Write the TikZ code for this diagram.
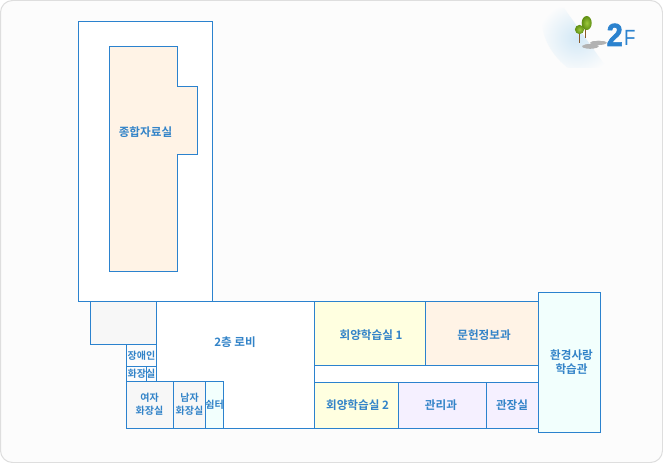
\documentclass[tikz,border=0pt]{standalone}
\usepackage{fontspec}
\setmainfont{Noto Sans CJK KR}[BoldFont={Noto Sans CJK KR Bold}]
\newfontfamily\heavyfont[FakeBold=2]{Liberation Sans Bold}
\newfontfamily\plainlatin{Liberation Sans}
\usetikzlibrary{shadings,fadings}
\definecolor{ln}{HTML}{2B82CE}
\definecolor{tx}{HTML}{3283C8}
\definecolor{cream}{HTML}{FFF3E6}
\definecolor{lemon}{HTML}{FFFFE0}
\definecolor{lav}{HTML}{F5F0FF}
\definecolor{mint}{HTML}{F2FFFD}
\definecolor{greyroom}{HTML}{F7F7F7}
\definecolor{page}{HTML}{FCFCFC}
\definecolor{blob}{HTML}{D2E8F6}
\definecolor{leafdark}{HTML}{5E8E12}
\definecolor{leaflight}{HTML}{9CC83C}
\definecolor{trunk}{HTML}{8A5A2A}
\tikzset{
  room/.style={draw=ln,line width=0.9pt},
  lbl/.style={text=tx,font=\fontsize{8.7pt}{10.4pt}\selectfont\bfseries,align=center,inner sep=0pt},
  lbls/.style={text=tx,font=\fontsize{7.5pt}{9.6pt}\selectfont\bfseries,align=center,inner sep=0pt},
  leaf/.style={inner color=leaflight,outer color=leafdark},
  shadowblur/.style={fill=black!30,path fading=circle with fuzzy edge 15 percent},
  x=0.75pt,y=-0.75pt
}
\begin{document}
\begin{tikzpicture}
\useasboundingbox (0,0) rectangle (663,463);
\draw[draw=black!13,fill=page,line width=0.75pt,rounded corners=9pt] (0.5,0.5) rectangle (662.5,462.5);
% logo
\begin{scope}
\path[clip] (564,8) -- (607,68) -- (540,68) -- (540,8) -- cycle;
\shade[inner color=blob,outer color=page,rotate around={-52:(577,38)}] (577,38) ellipse [x radius=44,y radius=28];
\end{scope}
\fill[shadowblur] (598,42.5) ellipse [x radius=9,y radius=2.6];
\fill[shadowblur] (590,46) ellipse [x radius=9,y radius=2.8];
\draw[trunk,line width=0.9pt] (585.7,28) -- (585.7,38);
\draw[trunk,line width=0.9pt] (579.3,32) -- (579.3,42.7);
\shade[leaf] (586.7,23) ellipse [x radius=5,y radius=7];
\shade[leaf] (579.5,29.5) ellipse [x radius=4.6,y radius=4.6];
\node[inner sep=0pt,anchor=base west,text=ln,xscale=0.9] (floor) at (606.5,46) {\heavyfont\fontsize{24pt}{24pt}\selectfont 2};
\node[inner sep=0pt,anchor=base west,text=ln,xscale=0.85] (floorf) at (624,46) {\plainlatin\fontsize{16.5pt}{17pt}\selectfont F};
% main wing
\draw[room,fill=white] (78.5,21.5) rectangle (212.5,301.5);
\draw[room,fill=cream] (109.5,46.5) -- (177.5,46.5) -- (177.5,86.5) -- (197.5,86.5) -- (197.5,154.5) -- (177.5,154.5) -- (177.5,271.5) -- (109.5,271.5) -- cycle;
\node[lbl] (r1) at (145.5,132) {종합자료실};
% lobby
\draw[room,fill=white] (156.5,301.5) -- (314.5,301.5) -- (314.5,428.5) -- (223.5,428.5) -- (223.5,381.5) -- (156.5,381.5) -- cycle;
\node[lbl] (r2) at (235,342) {2층 로비};
% grey
\draw[room,fill=greyroom] (90.5,301.5) rectangle (156.5,344.5);
\draw[room,fill=page] (126.5,344.5) rectangle (156.5,366.5);
\node[lbls] (r3) at (141.5,356) {장애인};
\draw[room,fill=page] (126.5,366.5) rectangle (146.5,381.5);
\draw[room,fill=page] (146.5,366.5) rectangle (156.5,381.5);
\node[lbls] (r4) at (141.5,374) {화장실};
\draw[room,fill=greyroom] (126.5,381.5) rectangle (173.5,428.5);
\node[lbls] (r5) at (149.5,404.5) {여자\\화장실};
\draw[room,fill=greyroom] (173.5,381.5) rectangle (205.5,428.5);
\node[lbls] (r6) at (189.5,404.5) {남자\\화장실};
\draw[room,fill=mint] (205.5,381.5) rectangle (223.5,428.5);
\node[lbls] (r7) at (214.5,405) {쉼터};
% east wing
\draw[room,fill=white] (314.5,301.5) rectangle (538.5,428.5);
\draw[room,fill=lemon] (314.5,301.5) rectangle (425.5,365.5);
\node[lbl] (r8) at (371,335) {회양학습실 1};
\draw[room,fill=cream] (425.5,301.5) rectangle (538.5,365.5);
\node[lbl] (r9) at (484,335) {문헌정보과};
\draw[room,fill=lemon] (314.5,382.5) rectangle (398.5,428.5);
\node[lbl] (r10) at (357.5,405.5) {회양학습실 2};
\draw[room,fill=lav] (398.5,382.5) rectangle (486.5,428.5);
\node[lbl] (r11) at (441,405.5) {관리과};
\draw[room,fill=lav] (486.5,382.5) rectangle (538.5,428.5);
\node[lbl] (r12) at (512,405.5) {관장실};
\draw[room,fill=mint] (538.5,292.5) rectangle (600.5,432.5);
\node[lbl,font=\fontsize{8.7pt}{10.6pt}\selectfont\bfseries] (r13) at (571.5,362.5) {환경사랑\\학습관};
\end{tikzpicture}
\end{document}
